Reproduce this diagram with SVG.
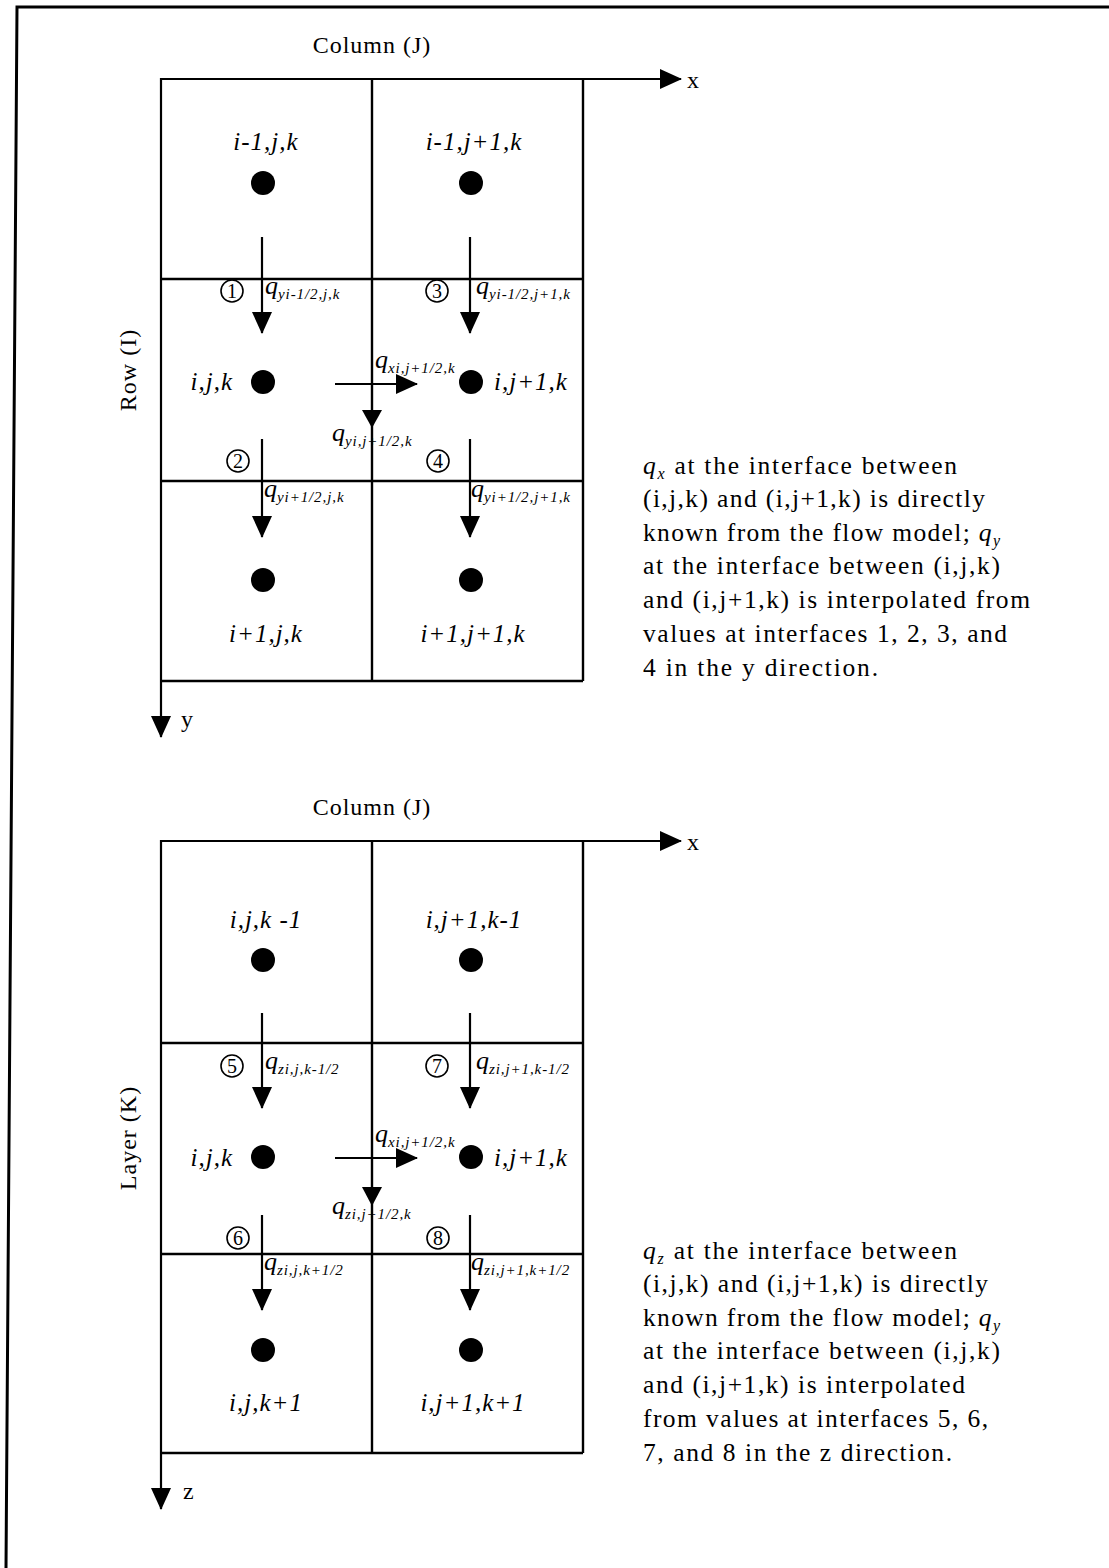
<svg xmlns="http://www.w3.org/2000/svg" width="1109" height="1568" viewBox="0 0 1109 1568">
<style>
.frame{fill:none;stroke:#000;stroke-width:3}
.grid{fill:none;stroke:#000;stroke-width:2.4}
.arr{fill:none;stroke:#000;stroke-width:2.2;marker-end:url(#ah)}
.dot{fill:#000}
.lbl{font-family:"Liberation Serif",serif;font-style:italic;font-size:25px;letter-spacing:1px;fill:#000}
.ttl{font-family:"Liberation Serif",serif;font-size:24px;letter-spacing:1px;fill:#000}
.q{font-family:"Liberation Serif",serif;font-style:italic;font-size:26px;fill:#000}
.s{font-size:15px;letter-spacing:0.9px}
.txt{font-family:"Liberation Serif",serif;font-size:25.5px;fill:#000}
.it{font-style:italic}
.cn{fill:none;stroke:#000;stroke-width:1.6}
.cnt{font-family:"Liberation Serif",serif;font-size:20px;text-anchor:middle;fill:#000}
</style>
<defs>
<marker id="ah" markerUnits="userSpaceOnUse" markerWidth="22" markerHeight="20" refX="21" refY="10" orient="auto">
<path d="M0,0 L22,10 L0,20 z" fill="#000"/>
</marker>
</defs>
<rect width="1109" height="1568" fill="#fff"/>
<path class="frame" d="M6,1568 L17,7 L1109,7"/>

<!-- ===== TOP GRID ===== -->
<g id="top-grid">
<text class="ttl" x="372" y="53" text-anchor="middle">Column (J)</text>
<path class="grid" d="M161,279 H583 M161,481 H583 M161,681 H583 M372,79 V681 M583,79 V681"/>
<text class="ttl" x="687" y="88">x</text>
<text class="ttl" x="181" y="727">y</text>
<text class="ttl" transform="translate(136,370) rotate(-90)" text-anchor="middle">Row (I)</text>
</g>
<g id="connectors-top">
<line class="arr" x1="160" y1="79" x2="681" y2="79"/>
<line class="arr" x1="161" y1="78" x2="161" y2="737"/>
<line class="arr" x1="262" y1="237" x2="262" y2="333"/>
<line class="arr" x1="470" y1="237" x2="470" y2="333"/>
<line class="arr" x1="262" y1="439" x2="262" y2="537"/>
<line class="arr" x1="470" y1="439" x2="470" y2="537"/>
<line class="arr" x1="335" y1="384" x2="417" y2="384"/>
<path d="M362,410 L382,410 L372,428 z" fill="#000"/>
</g>
<g id="n-im1jk"><circle class="dot" cx="263" cy="183" r="12"/><text class="lbl" x="266" y="150" text-anchor="middle">i-1,j,k</text></g>
<g id="n-im1jp1k"><circle class="dot" cx="471" cy="183" r="12"/><text class="lbl" x="474" y="150" text-anchor="middle">i-1,j+1,k</text></g>
<g id="n-ijk"><circle class="dot" cx="263" cy="382" r="12"/><text class="lbl" x="233" y="390" text-anchor="end">i,j,k</text></g>
<g id="n-ijp1k"><circle class="dot" cx="471" cy="382" r="12"/><text class="lbl" x="494" y="390">i,j+1,k</text></g>
<g id="n-ip1jk"><circle class="dot" cx="263" cy="580" r="12"/><text class="lbl" x="266" y="642" text-anchor="middle">i+1,j,k</text></g>
<g id="n-ip1jp1k"><circle class="dot" cx="471" cy="580" r="12"/><text class="lbl" x="473" y="642" text-anchor="middle">i+1,j+1,k</text></g>
<g id="labels-top">
<circle class="cn" cx="232" cy="291" r="11"/><text class="cnt" x="232" y="298">1</text>
<circle class="cn" cx="437" cy="291" r="11"/><text class="cnt" x="437" y="298">3</text>
<circle class="cn" cx="238" cy="461" r="11"/><text class="cnt" x="238" y="468">2</text>
<circle class="cn" cx="438" cy="461" r="11"/><text class="cnt" x="438" y="468">4</text>
<text class="q" x="265" y="294">q<tspan class="s" dy="5">yi-1/2,j,k</tspan></text>
<text class="q" x="476" y="294">q<tspan class="s" dy="5">yi-1/2,j+1,k</tspan></text>
<text class="q" x="375" y="368">q<tspan class="s" dy="5">xi,j+1/2,k</tspan></text>
<text class="q" x="332" y="441">q<tspan class="s" dy="5">yi,j+1/2,k</tspan></text>
<text class="q" x="264" y="497">q<tspan class="s" dy="5">yi+1/2,j,k</tspan></text>
<text class="q" x="471" y="497">q<tspan class="s" dy="5">yi+1/2,j+1,k</tspan></text>
</g>
<g id="note-top" class="txt">
<text x="643" y="474" textLength="314" lengthAdjust="spacing"><tspan class="it">q</tspan><tspan class="it" font-size="16" dy="5">x</tspan><tspan dy="-5"> at the interface between</tspan></text>
<text x="643" y="507" textLength="342" lengthAdjust="spacing">(i,j,k) and (i,j+1,k) is directly</text>
<text x="643" y="541" textLength="357" lengthAdjust="spacing">known from the flow model; <tspan class="it">q</tspan><tspan class="it" font-size="16" dy="5">y</tspan></text>
<text x="643" y="574" textLength="357" lengthAdjust="spacing">at the interface between (i,j,k)</text>
<text x="643" y="608" textLength="387" lengthAdjust="spacing">and  (i,j+1,k) is interpolated from</text>
<text x="643" y="642" textLength="364" lengthAdjust="spacing">values at interfaces 1, 2, 3, and</text>
<text x="643" y="676" textLength="235" lengthAdjust="spacing">4 in the y direction.</text>
</g>

<!-- ===== BOTTOM GRID ===== -->
<g id="bottom-grid">
<text class="ttl" x="372" y="815" text-anchor="middle">Column (J)</text>
<path class="grid" d="M161,1043 H583 M161,1254 H583 M161,1453 H583 M372,841 V1453 M583,841 V1453"/>
<text class="ttl" x="687" y="850">x</text>
<text class="ttl" x="183" y="1499">z</text>
<text class="ttl" transform="translate(136,1138) rotate(-90)" text-anchor="middle">Layer (K)</text>
</g>
<g id="connectors-bottom">
<line class="arr" x1="160" y1="841" x2="681" y2="841"/>
<line class="arr" x1="161" y1="840" x2="161" y2="1509"/>
<line class="arr" x1="262" y1="1013" x2="262" y2="1108"/>
<line class="arr" x1="470" y1="1013" x2="470" y2="1108"/>
<line class="arr" x1="262" y1="1215" x2="262" y2="1310"/>
<line class="arr" x1="470" y1="1215" x2="470" y2="1310"/>
<line class="arr" x1="335" y1="1158" x2="417" y2="1158"/>
<path d="M362,1187 L382,1187 L372,1206 z" fill="#000"/>
</g>
<g id="n-ijkm1"><circle class="dot" cx="263" cy="960" r="12"/><text class="lbl" x="266" y="928" text-anchor="middle">i,j,k -1</text></g>
<g id="n-ijp1km1"><circle class="dot" cx="471" cy="960" r="12"/><text class="lbl" x="474" y="928" text-anchor="middle">i,j+1,k-1</text></g>
<g id="n-ijk-b"><circle class="dot" cx="263" cy="1157" r="12"/><text class="lbl" x="233" y="1166" text-anchor="end">i,j,k</text></g>
<g id="n-ijp1k-b"><circle class="dot" cx="471" cy="1157" r="12"/><text class="lbl" x="494" y="1166">i,j+1,k</text></g>
<g id="n-ijkp1"><circle class="dot" cx="263" cy="1350" r="12"/><text class="lbl" x="266" y="1411" text-anchor="middle">i,j,k+1</text></g>
<g id="n-ijp1kp1"><circle class="dot" cx="471" cy="1350" r="12"/><text class="lbl" x="473" y="1411" text-anchor="middle">i,j+1,k+1</text></g>
<g id="labels-bottom">
<circle class="cn" cx="232" cy="1066" r="11"/><text class="cnt" x="232" y="1073">5</text>
<circle class="cn" cx="437" cy="1066" r="11"/><text class="cnt" x="437" y="1073">7</text>
<circle class="cn" cx="238" cy="1238" r="11"/><text class="cnt" x="238" y="1245">6</text>
<circle class="cn" cx="438" cy="1238" r="11"/><text class="cnt" x="438" y="1245">8</text>
<text class="q" x="265" y="1069">q<tspan class="s" dy="5">zi,j,k-1/2</tspan></text>
<text class="q" x="476" y="1069">q<tspan class="s" dy="5">zi,j+1,k-1/2</tspan></text>
<text class="q" x="375" y="1142">q<tspan class="s" dy="5">xi,j+1/2,k</tspan></text>
<text class="q" x="332" y="1214">q<tspan class="s" dy="5">zi,j+1/2,k</tspan></text>
<text class="q" x="264" y="1270">q<tspan class="s" dy="5">zi,j,k+1/2</tspan></text>
<text class="q" x="471" y="1270">q<tspan class="s" dy="5">zi,j+1,k+1/2</tspan></text>
</g>
<g id="note-bottom" class="txt">
<text x="643" y="1259" textLength="314" lengthAdjust="spacing"><tspan class="it">q</tspan><tspan class="it" font-size="16" dy="5">z</tspan><tspan dy="-5"> at the interface between</tspan></text>
<text x="643" y="1292" textLength="345" lengthAdjust="spacing">(i,j,k) and (i,j+1,k) is directly</text>
<text x="643" y="1326" textLength="357" lengthAdjust="spacing">known from the flow model; <tspan class="it">q</tspan><tspan class="it" font-size="16" dy="5">y</tspan></text>
<text x="643" y="1359" textLength="357" lengthAdjust="spacing">at the interface between (i,j,k)</text>
<text x="643" y="1393" textLength="322" lengthAdjust="spacing">and (i,j+1,k) is interpolated</text>
<text x="643" y="1427" textLength="345" lengthAdjust="spacing">from values at interfaces 5, 6,</text>
<text x="643" y="1461" textLength="309" lengthAdjust="spacing">7, and 8 in the z direction.</text>
</g>
</svg>
